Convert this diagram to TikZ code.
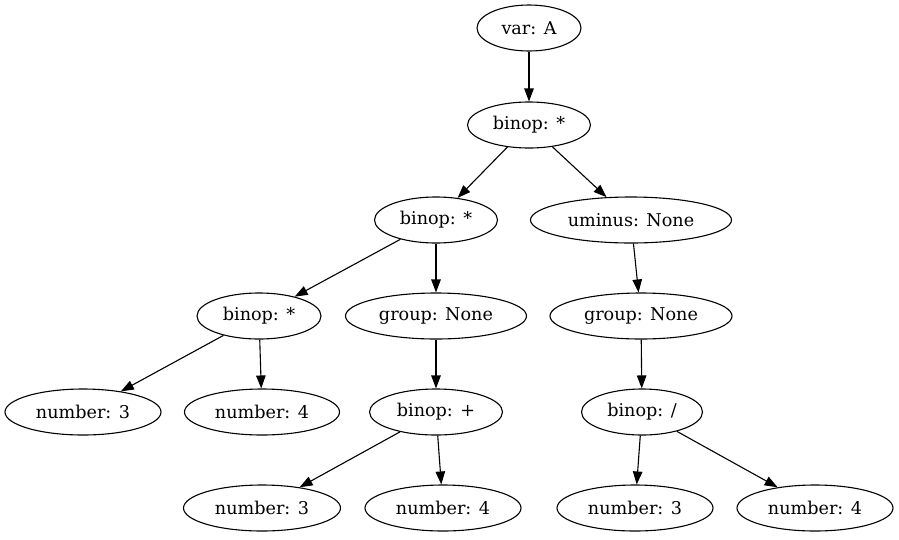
\documentclass[tikz,border=0pt]{standalone}
\usepackage{fontspec}
\setmainfont{DejaVu Serif}
\usetikzlibrary{shapes.geometric,arrows.meta}
\begin{document}
\begin{tikzpicture}[x=1pt,y=-1pt,
  tn/.style={ellipse,draw,line width=1.1pt,minimum height=46pt,inner sep=0pt,font=\fontsize{17.6}{19}\selectfont},
  edge/.style={line width=1.1pt,-{Triangle[length=13pt,width=9.5pt]}}]
\useasboundingbox (0,0) rectangle (899,539);
\node[tn,minimum width=104pt] (varA) at (529,28) {var: A};
\node[tn,minimum width=123pt] (b1) at (529,125) {binop: *};
\node[tn,minimum width=123pt] (b2) at (436,220) {binop: *};
\node[tn,minimum width=201pt] (um) at (631,220) {uminus: None};
\node[tn,minimum width=124pt] (b3) at (259,316) {binop: *};
\node[tn,minimum width=181pt] (g1) at (436,316) {group: None};
\node[tn,minimum width=182pt] (g2) at (641,316) {group: None};
\node[tn,minimum width=156pt] (n1) at (83,412) {number: 3};
\node[tn,minimum width=155pt] (n2) at (262,412) {number: 4};
\node[tn,minimum width=133pt] (bp) at (436,412) {binop: +};
\node[tn,minimum width=121pt] (bd) at (642,412) {binop: /};
\node[tn,minimum width=157pt] (n3) at (262,508) {number: 3};
\node[tn,minimum width=156pt] (n4) at (443,508) {number: 4};
\node[tn,minimum width=156pt] (n5) at (635,508) {number: 3};
\node[tn,minimum width=156pt] (n6) at (815,508) {number: 4};
\draw[edge] (varA) -- (b1);
\draw[edge] (b1) -- (b2);
\draw[edge] (b1) -- (um);
\draw[edge] (b2) -- (b3);
\draw[edge] (b2) -- (g1);
\draw[edge] (um) -- (g2);
\draw[edge] (b3) -- (n1);
\draw[edge] (b3) -- (n2);
\draw[edge] (g1) -- (bp);
\draw[edge] (g2) -- (bd);
\draw[edge] (bp) -- (n3);
\draw[edge] (bp) -- (n4);
\draw[edge] (bd) -- (n5);
\draw[edge] (bd) -- (n6);
\end{tikzpicture}
\end{document}
